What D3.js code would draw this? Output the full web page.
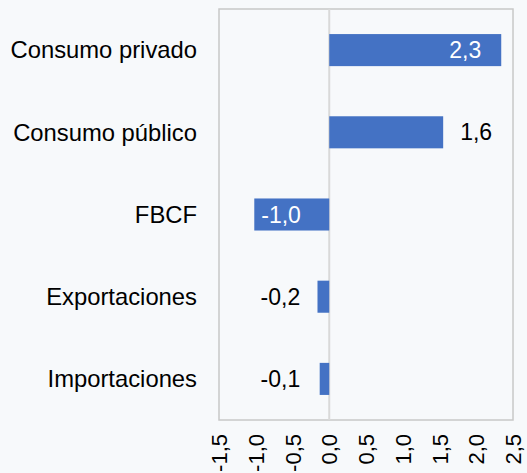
<!DOCTYPE html>
<html>
<head>
<meta charset="utf-8">
<script src="https://cdn.jsdelivr.net/npm/d3@7"></script>
<style>
  body { margin: 0; background: #f7f9fb; }
  svg { display: block; font-family: "Liberation Sans", Arial, sans-serif; }
</style>
</head>
<body>
<div id="chart-area"></div>
<script>
var categories = ["Consumo privado", "Consumo público", "FBCF", "Exportaciones", "Importaciones"];
var values = [2.34, 1.55, -1.02, -0.16, -0.13];
var labelInside = [true, false, true, false, false];
var tickValues = [-1.5, -1.0, -0.5, 0, 0.5, 1.0, 1.5, 2.0, 2.5];

var width = 527, height = 473;
var plot = { left: 219, right: 513, top: 9, bottom: 420 };

var fmt = function(d) { return d3.format(".1f")(d).replace(".", ",").replace("−", "-"); };

var svg = d3.select("#chart-area").append("svg")
    .attr("width", width)
    .attr("height", height);

var x = d3.scaleLinear()
    .domain([-1.5, 2.5])
    .range([plot.left, plot.right]);

var y = d3.scaleBand()
    .domain(categories)
    .range([plot.top, plot.bottom])
    .paddingInner(0.61)
    .paddingOuter(0.305);

// plot border
svg.append("rect")
    .attr("x", plot.left)
    .attr("y", plot.top)
    .attr("width", plot.right - plot.left)
    .attr("height", plot.bottom - plot.top)
    .attr("fill", "none")
    .attr("stroke", "#c8c8c8")
    .attr("stroke-width", 1.5);

// zero line
svg.append("line")
    .attr("x1", x(0)).attr("x2", x(0))
    .attr("y1", plot.top).attr("y2", plot.bottom)
    .attr("stroke", "#d9d9d9")
    .attr("stroke-width", 2);

// bars
svg.selectAll("rect.bar")
    .data(values)
    .enter()
    .append("rect")
    .attr("class", "bar")
    .attr("x", function(d) { return x(Math.min(0, d)); })
    .attr("y", function(d, i) { return y(categories[i]); })
    .attr("width", function(d) { return Math.abs(x(d) - x(0)); })
    .attr("height", y.bandwidth())
    .attr("fill", "#4472c4");

// category labels
svg.selectAll("text.cat")
    .data(categories)
    .enter()
    .append("text")
    .attr("class", "cat")
    .attr("x", plot.left - 22)
    .attr("y", function(d) { return y(d) + y.bandwidth() / 2; })
    .attr("dy", "0.35em")
    .attr("text-anchor", "end")
    .attr("font-size", "23.8px")
    .attr("fill", "#000")
    .text(function(d) { return d; });

// value labels
svg.selectAll("text.val")
    .data(values)
    .enter()
    .append("text")
    .attr("class", "val")
    .attr("x", function(d, i) {
        if (labelInside[i]) return d >= 0 ? x(d) - 20 : x(d) + 7;
        return d >= 0 ? x(d) + 17 : x(0) - 29;
    })
    .attr("y", function(d, i) { return y(categories[i]) + y.bandwidth() / 2; })
    .attr("dy", "0.35em")
    .attr("text-anchor", function(d, i) {
        if (labelInside[i]) return d >= 0 ? "end" : "start";
        return d >= 0 ? "start" : "end";
    })
    .attr("font-size", "23px")
    .attr("fill", function(d, i) { return labelInside[i] ? "#fff" : "#000"; })
    .text(fmt);

// x axis
var xAxisCall = d3.axisBottom(x)
    .tickValues(tickValues)
    .tickSize(0)
    .tickFormat(fmt);

var xAxis = svg.append("g")
    .attr("class", "x-axis")
    .attr("transform", "translate(0," + plot.bottom + ")")
    .call(xAxisCall);

xAxis.select(".domain").remove();
xAxis.selectAll("text")
    .attr("font-size", "22px")
    .attr("font-family", "Liberation Sans, Arial, sans-serif")
    .attr("fill", "#000")
    .attr("transform", "rotate(-90)")
    .attr("text-anchor", "end")
    .attr("x", -14)
    .attr("y", 0)
    .attr("dy", "0.35em");
</script>
</body>
</html>
